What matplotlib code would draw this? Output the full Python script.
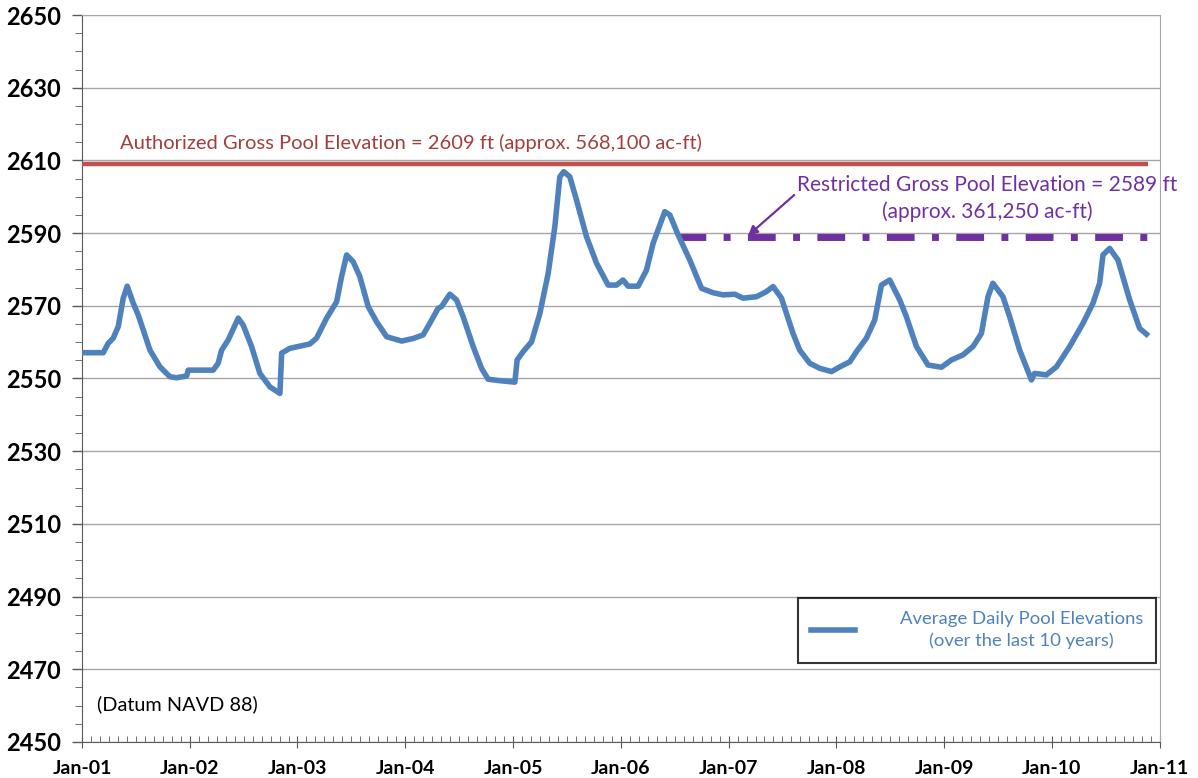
import matplotlib
matplotlib.use("Agg")
import matplotlib.pyplot as plt
from matplotlib.ticker import MultipleLocator, FixedLocator

# ---------- DATA ------------
# time as decimal years, elevation in ft
years = [2001.000, 2001.198, 2001.244, 2001.290, 2001.337, 2001.383, 2001.420, 2001.476,
         2001.522, 2001.631, 2001.724, 2001.816, 2001.878, 2001.971, 2001.986, 2002.218,
         2002.264, 2002.296, 2002.357, 2002.450, 2002.496, 2002.574, 2002.651, 2002.744,
         2002.837, 2002.853, 2002.929, 2003.022, 2003.115, 2003.177, 2003.270, 2003.363,
         2003.409, 2003.456, 2003.517, 2003.579, 2003.656, 2003.734, 2003.827, 2003.966,
         2004.073, 2004.166, 2004.228, 2004.305, 2004.337, 2004.414, 2004.476, 2004.537,
         2004.630, 2004.708, 2004.769, 2004.878, 2005.017, 2005.038, 2005.094, 2005.172,
         2005.249, 2005.326, 2005.388, 2005.434, 2005.471, 2005.527, 2005.589, 2005.682,
         2005.775, 2005.882, 2005.960, 2006.021, 2006.068, 2006.161, 2006.238, 2006.300,
         2006.408, 2006.455, 2006.532, 2006.640, 2006.749, 2006.856, 2006.949, 2007.057,
         2007.134, 2007.259, 2007.351, 2007.413, 2007.491, 2007.537, 2007.598, 2007.660,
         2007.753, 2007.846, 2007.955, 2008.032, 2008.125, 2008.187, 2008.279, 2008.356,
         2008.418, 2008.495, 2008.588, 2008.650, 2008.743, 2008.851, 2008.975, 2009.068,
         2009.175, 2009.268, 2009.346, 2009.407, 2009.453, 2009.546, 2009.608, 2009.701,
         2009.810, 2009.840, 2009.949, 2010.042, 2010.165, 2010.289, 2010.381, 2010.443,
         2010.474, 2010.536, 2010.613, 2010.722, 2010.814, 2010.877]
elev = [2557.1, 2557.1, 2559.7, 2561.1, 2564.3, 2572.1, 2575.4, 2570.7,
        2567.5, 2557.8, 2553.2, 2550.5, 2550.2, 2550.7, 2552.3, 2552.3,
        2554.2, 2557.8, 2560.6, 2566.6, 2564.7, 2558.8, 2551.4, 2547.7,
        2545.9, 2557.0, 2558.3, 2558.9, 2559.5, 2561.1, 2566.6, 2571.1,
        2578.0, 2584.0, 2582.1, 2578.0, 2569.8, 2565.6, 2561.5, 2560.3,
        2561.0, 2562.0, 2565.2, 2569.3, 2569.8, 2573.2, 2571.6, 2567.0,
        2558.8, 2552.8, 2549.8, 2549.4, 2549.0, 2555.1, 2557.4, 2560.1,
        2567.9, 2578.9, 2591.8, 2605.5, 2606.9, 2605.5, 2599.1, 2589.0,
        2581.7, 2575.7, 2575.7, 2577.1, 2575.4, 2575.4, 2579.8, 2587.2,
        2595.9, 2595.0, 2589.5, 2582.6, 2574.8, 2573.6, 2573.0, 2573.2,
        2572.1, 2572.5, 2573.9, 2575.3, 2572.1, 2567.9, 2562.4, 2557.8,
        2554.2, 2552.8, 2551.9, 2553.2, 2554.6, 2557.4, 2561.1, 2566.1,
        2575.7, 2577.1, 2571.6, 2567.0, 2558.8, 2553.7, 2553.1, 2555.1,
        2556.5, 2558.8, 2562.4, 2572.5, 2576.2, 2572.5, 2567.0, 2557.8,
        2549.6, 2551.4, 2551.0, 2553.2, 2558.8, 2565.2, 2570.7, 2576.2,
        2584.0, 2585.8, 2582.6, 2571.6, 2563.8, 2562.2]

authorized_elev = 2609
authorized_span = [2001.0, 2010.89]
restricted_elev = 2589
restricted_span = [2006.53, 2010.89]

year_ticks = list(range(2001, 2012))
year_labels = ["Jan-%02d" % (y % 100) for y in year_ticks]
# ------------------------------

# ---------- CONFIG ------------
c_blue = "#4F81BD"
c_red = "#C0504D"
c_red_txt = "#A33D3E"
c_purple = "#7030A0"
c_axis = "#595959"
plt.rcParams["font.family"] = ["Lato", "DejaVu Sans"]
# ------------------------------

fig = plt.figure(figsize=(11.98, 7.78), dpi=100)
ax = fig.add_axes([0.0684, 0.0463, 0.8996, 0.9344])

ax.plot(authorized_span, [authorized_elev] * 2, color=c_red, lw=3.2, solid_capstyle="butt", zorder=3)
ax.plot(restricted_span, [restricted_elev] * 2, color=c_purple, lw=5, dashes=(4, 2.5, 1, 2.5),
        dash_capstyle="butt", zorder=3)
ax.plot(years, elev, color=c_blue, lw=4, solid_joinstyle="round", zorder=4,
        label="Average Daily Pool Elevations\n(over the last 10 years)")

ax.set_xlim(2001, 2011)
ax.set_ylim(2450, 2650)
ax.xaxis.set_major_locator(FixedLocator(year_ticks))
ax.set_xticklabels(year_labels)
ax.xaxis.set_minor_locator(MultipleLocator(1 / 12))
ax.set_yticks(range(2450, 2651, 20))
ax.yaxis.set_minor_locator(MultipleLocator(5))

ax.grid(axis="y", which="major", color="#A6A6A6", lw=1)
ax.set_axisbelow(True)
for s in ["top", "right"]:
    ax.spines[s].set_color("#A6A6A6")
for s in ["left", "bottom"]:
    ax.spines[s].set_color(c_axis)

ax.tick_params(axis="y", which="major", labelsize=17, length=7, width=1, color=c_axis, pad=8)
ax.tick_params(axis="y", which="minor", length=5, color=c_axis)
ax.tick_params(axis="x", which="major", labelsize=14, direction="inout", length=8, color=c_axis, pad=9)
ax.tick_params(axis="x", which="minor", length=4, direction="in", color=c_axis)
for lab in ax.get_xticklabels() + ax.get_yticklabels():
    lab.set_fontweight("bold")

ax.text(2004.05, 2614.8, "Authorized Gross Pool Elevation = 2609 ft (approx. 568,100 ac-ft)",
        color=c_red_txt, fontsize=14.5, ha="center", va="center")
ax.annotate("Restricted Gross Pool Elevation = 2589 ft\n(approx. 361,250 ac-ft)",
            xy=(2007.18, 2589.3), xytext=(2009.40, 2599.6),
            color=c_purple, fontsize=15, ha="center", va="center", linespacing=1.4,
            arrowprops=dict(arrowstyle="-|>", color=c_purple, lw=1.6, mutation_scale=14,
                            shrinkA=0, shrinkB=0, relpos=(0.0, 0.62)))
ax.text(2001.14, 2460.5, "(Datum NAVD 88)", color="black", fontsize=14.3, ha="left", va="center")

leg = ax.legend(loc="lower right", bbox_to_anchor=(0.997, 0.109), fontsize=13.3, frameon=True,
                fancybox=False, edgecolor="black", handlelength=2.4, borderpad=0.72,
                handletextpad=2.4, borderaxespad=0)
leg.get_frame().set_linewidth(1.5)
for t in leg.get_texts():
    t.set_color(c_blue)
    t.set_multialignment("center")
    t.set_linespacing(1.42)

fig.savefig("out.png", dpi=100)
